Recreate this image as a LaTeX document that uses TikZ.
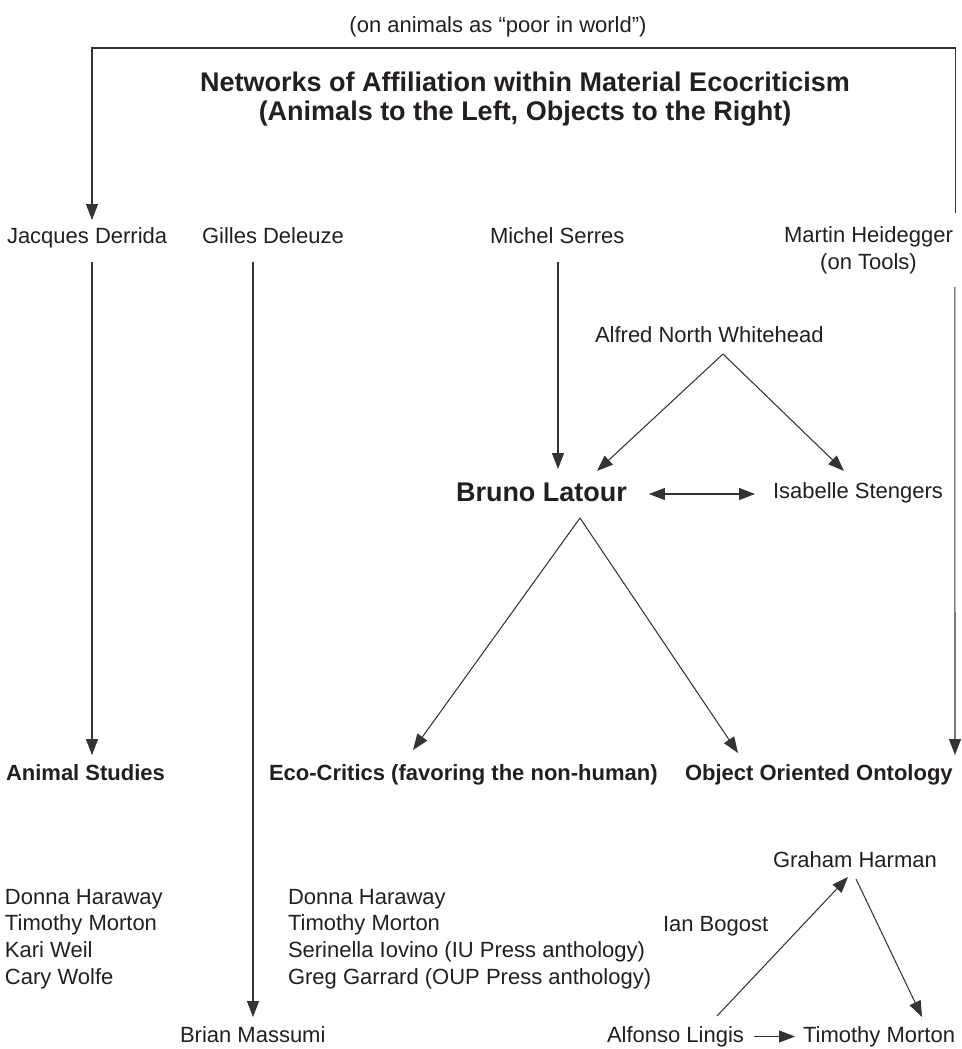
\documentclass[tikz,border=0pt]{standalone}
\usepackage{fontspec}
\setmainfont{Liberation Sans}
\usetikzlibrary{arrows.meta}
\definecolor{ink}{HTML}{231F20}
\definecolor{wire}{HTML}{333333}
\begin{document}
\begin{tikzpicture}[x=1pt,y=-1pt,
  lab/.style={inner sep=0pt, outer sep=0pt, text=ink, font=\fontsize{22}{26.7}\selectfont, text height=16pt, text depth=5pt, anchor=base west},
  blab/.style={lab, font=\fontsize{22}{26.7}\selectfont\bfseries},
  multi/.style={inner sep=0pt, outer sep=0pt, text=ink, font=\fontsize{22}{26.7}\selectfont},
  conn/.style={draw=wire, line width=1.05pt},
  arr/.style={conn, -{Triangle[length=16pt,width=12pt]}},
  darr/.style={conn, {Triangle[length=16pt,width=12pt]}-{Triangle[length=16pt,width=12pt]}}]
\useasboundingbox (0,0) rectangle (961,1049);
\node[multi, anchor=base] (sub) at (498,33) {(on animals as “poor in world”)};
\node[multi, anchor=north, align=center, font=\fontsize{27}{29}\selectfont\bfseries] (title) at (525,72.3) {Networks of Affiliation within Material Ecocriticism\\(Animals to the Left, Objects to the Right)};
\node[lab] (derrida) at (7,243) {Jacques Derrida};
\node[lab] (deleuze) at (202,243) {Gilles Deleuze};
\node[lab] (serres) at (490,243) {Michel Serres};
\node[multi, anchor=north, align=center] (heidegger) at (868.5,227) {Martin Heidegger\\(on Tools)};
\node[lab] (whitehead) at (595,342) {Alfred North Whitehead};
\node[lab, font=\fontsize{27}{29}\selectfont\bfseries, text height=20pt, text depth=6pt] (latour) at (456,501) {Bruno Latour};
\node[lab] (stengers) at (773,498) {Isabelle Stengers};
\node[blab] (animal) at (6,780) {Animal Studies};
\node[blab] (eco) at (269,780) {Eco-Critics (favoring the non-human)};
\node[blab] (ooo) at (685,780) {Object Oriented Ontology};
\node[multi, anchor=north west, align=left] (alist) at (5,889) {Donna Haraway\\Timothy Morton\\Kari Weil\\Cary Wolfe};
\node[multi, anchor=north west, align=left] (elist) at (288,889) {Donna Haraway\\Timothy Morton\\Serinella Iovino (IU Press anthology)\\Greg Garrard (OUP Press anthology)};
\node[lab] (harman) at (773,867) {Graham Harman};
\node[lab] (bogost) at (663,931) {Ian Bogost};
\node[lab] (brian) at (180,1042) {Brian Massumi};
\node[lab] (lingis) at (607,1042) {Alfonso Lingis};
\node[lab] (morton) at (803,1042) {Timothy Morton};
\coordinate (frame) at (500,48);
\draw[arr] ([xshift=3pt,yshift=14pt]heidegger.north east) |- (frame) -| ([xshift=85pt,yshift=7pt]derrida.north west);
\draw[arr] ([xshift=85pt,yshift=-14pt]derrida.south west) -- ([xshift=86pt,yshift=9pt]animal.north west);
\draw[arr] ([xshift=51pt,yshift=-14pt]deleuze.south west) -- ([xshift=73pt,yshift=9pt]brian.north west);
\draw[arr] ([xshift=68pt,yshift=-14pt]serres.south west) -- ([xshift=102pt,yshift=12pt]latour.north west);
\draw[arr] ([xshift=128pt,yshift=-7pt]whitehead.south west) -- ([xshift=141pt,yshift=10pt]latour.north west);
\draw[arr] ([xshift=128pt,yshift=-7pt]whitehead.south west) -- ([xshift=71pt,yshift=11pt]stengers.north west);
\draw[darr] ([xshift=22pt]latour.east) -- ([xshift=-18pt]stengers.west |- latour.east);
\draw[arr] ([xshift=124pt,yshift=-11pt]latour.south west) -- ([xshift=144pt,yshift=14pt]eco.north west);
\draw[arr] ([xshift=124pt,yshift=-11pt]latour.south west) -- ([xshift=53pt,yshift=11pt]ooo.north west);
\draw[arr] ([xshift=2pt,yshift=-12.6pt]heidegger.south east) -- ([xshift=270pt,yshift=9pt]ooo.north west);
\draw[arr] ([xshift=110pt,yshift=10pt]lingis.north west) -- ([xshift=75pt,yshift=-5pt]harman.south west);
\draw[arr] ([xshift=83pt,yshift=-7pt]harman.south west) -- ([xshift=119pt,yshift=9pt]morton.north west);
\draw[arr] ([xshift=10pt]lingis.east) -- ([xshift=-8pt]morton.west);
\end{tikzpicture}
\end{document}
